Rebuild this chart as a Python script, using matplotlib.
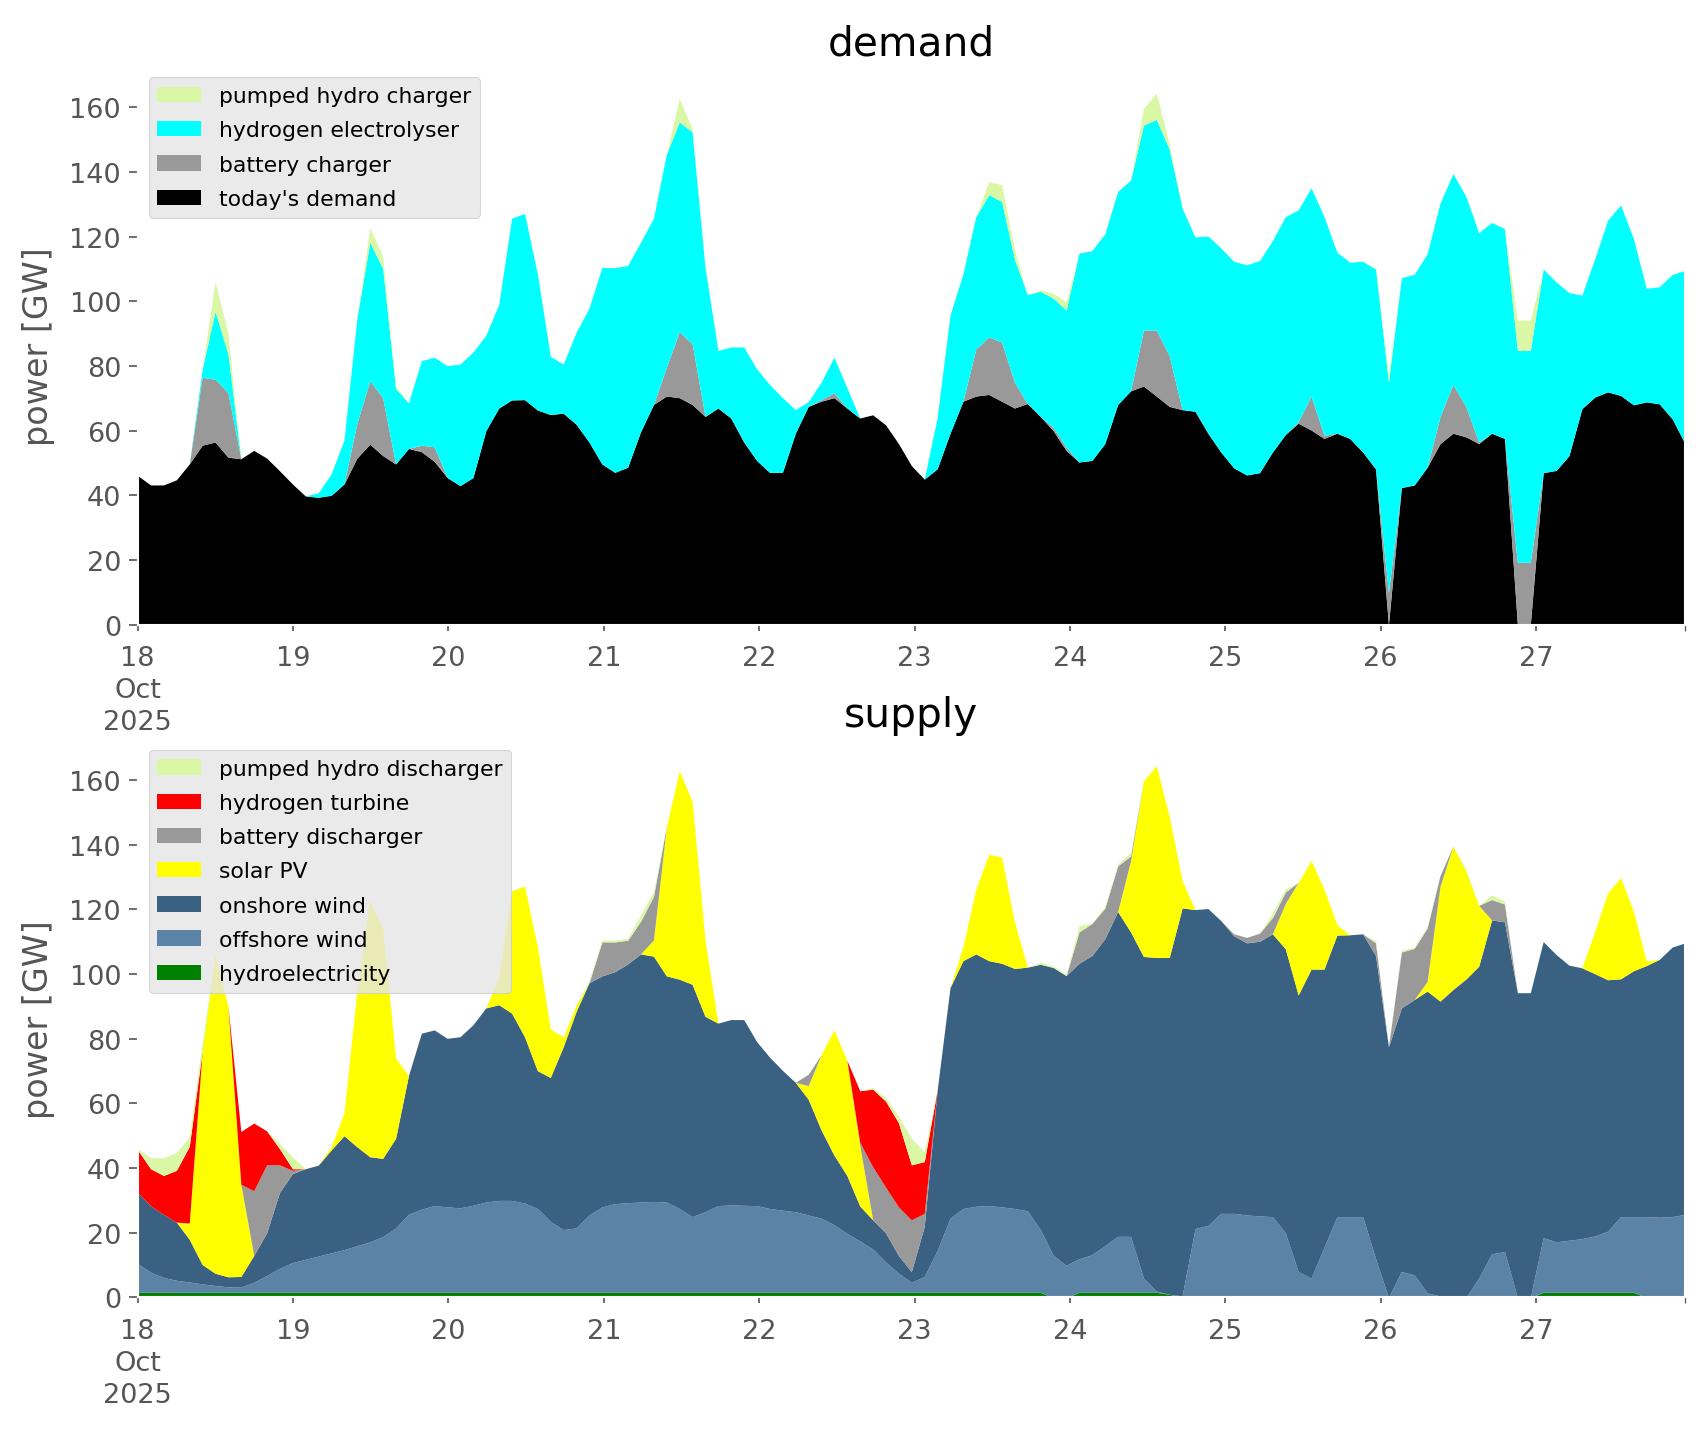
import numpy as np
import pandas as pd
import matplotlib
matplotlib.use('Agg')
import matplotlib.pyplot as plt

plt.style.use('ggplot')

# 2-hourly samples, 18 Oct 00:00 .. 27 Oct 23:00
times = pd.date_range('2025-10-18 00:00', '2025-10-27 23:00', periods=121)

# ---- demand side [GW]
todays_demand = [46.1, 43.2, 43.2, 44.8, 49.7, 55.5, 56.5, 51.8, 51.3, 53.9,
                 51.5, 47.6, 43.5, 39.8, 39.4, 40.0, 43.5, 51.5, 55.8, 52.3,
                 49.7, 54.5, 53.5, 50.5, 45.5, 43.0, 45.5, 60.0, 67.0, 69.5,
                 69.6, 66.4, 65.0, 65.4, 62.0, 56.5, 49.7, 47.1, 48.7, 59.7,
                 68.1, 70.7, 70.2, 68.1, 64.4, 67.0, 63.9, 56.5, 50.8, 47.1,
                 47.1, 59.2, 67.5, 69.1, 70.2, 67.0, 63.9, 64.9, 61.8, 56.0,
                 49.2, 45.0, 48.2, 59.2, 69.1, 70.7, 71.2, 69.1, 67.0, 68.4,
                 64.4, 60.0, 53.9, 50.3, 50.8, 56.0, 68.1, 72.3, 73.8, 70.7,
                 67.5, 66.5, 66.0, 59.2, 53.4, 48.5, 46.3, 47.0, 53.4, 58.8,
                 62.3, 60.2, 57.6, 59.2, 57.6, 53.4, 48.2, 0.0, 42.4, 43.2,
                 48.7, 56.0, 59.2, 58.1, 56.0, 59.2, 57.6, 0.0, 0.0, 47.0,
                 47.7, 52.3, 66.8, 70.4, 72.0, 70.9, 68.0, 68.9, 68.3, 63.7, 56.0]
battery_charger = [0, 0, 0, 0, 0, 21.0, 19.4, 20.0, 0, 0,
                   0, 0, 0, 0, 0, 0, 0, 10.8, 19.6, 17.9,
                   0, 0, 2.0, 4.5, 0, 0, 0, 0, 0, 0,
                   0, 0, 0, 0, 0, 0, 0, 0, 0, 0,
                   0, 8.9, 20.4, 18.8, 0, 0, 0, 0, 0, 0,
                   0, 0, 0, 0.5, 1.5, 0, 0, 0, 0, 0,
                   0, 0, 0, 0, 0, 14.6, 17.8, 18.3, 7.9, 0,
                   0, 1.0, 1.0, 0, 0, 0, 0, 0, 17.3, 20.4,
                   15.7, 0, 0, 0, 0, 0, 0, 0, 0, 0,
                   0.5, 10.5, 1.0, 0, 0, 0, 0, 10.0, 0, 0,
                   0, 8.4, 15.1, 9.4, 0.5, 0, 0, 19.3, 19.3, 0,
                   0, 0, 0, 0, 0, 0, 0, 0, 0, 0, 0]
electrolyser = [0, 0, 0, 0, 0, 2.5, 21.0, 12.0, 0, 0,
                0, 0, 0, 0, 1.4, 6.6, 13.6, 32.5, 42.9, 40.0,
                23.3, 14.1, 26.2, 27.7, 34.6, 37.6, 38.8, 29.5, 32.0, 56.2,
                57.6, 42.0, 18.0, 15.2, 28.4, 41.4, 60.8, 63.3, 62.4, 58.6,
                57.6, 65.9, 64.9, 65.5, 46.0, 17.8, 22.0, 29.4, 28.3, 27.2,
                23.1, 7.3, 1.5, 5.4, 11.0, 6.3, 0, 0, 0, 0,
                0, 0, 15.8, 36.6, 39.4, 40.9, 44.0, 43.5, 38.1, 33.7,
                38.7, 40.0, 42.4, 64.6, 64.9, 64.9, 65.9, 65.2, 63.4, 65.2,
                63.9, 62.3, 53.9, 61.0, 63.1, 63.9, 65.0, 65.6, 65.4, 67.4,
                65.5, 64.4, 67.6, 56.0, 54.5, 59.0, 61.8, 65.0, 64.9, 65.2,
                66.0, 66.0, 65.2, 65.0, 64.7, 65.2, 64.9, 65.5, 65.5, 63.0,
                58.3, 50.4, 35.1, 42.8, 53.1, 58.9, 51.4, 35.1, 36.2, 44.6, 53.6]
pumped_charger = [0, 0, 0, 0, 0, 0, 9.4, 6.2, 0, 0,
                  0, 0, 0, 0, 0, 0, 0, 0, 4.5, 3.8,
                  1.0, 0, 0, 0, 0, 0, 0, 0, 0, 0,
                  0, 0, 0, 0, 0, 0, 0, 0, 0, 0,
                  0, 0, 7.3, 1.0, 0, 0, 0, 0, 0, 0,
                  0, 0, 0, 0, 0, 0, 0, 0, 0, 0,
                  0, 0, 0, 0, 0, 0, 4.0, 5.2, 3.0, 0,
                  0.5, 1.5, 2.6, 0, 0, 0, 0, 0, 5.2, 8.1,
                  1.6, 0, 0, 0, 0, 0, 0, 0, 0, 0,
                  0, 0, 0, 0, 0, 0, 0.3, 2.5, 0, 0,
                  0, 0, 0, 0, 0, 0, 0, 9.4, 9.4, 0,
                  0, 0, 0, 0, 0, 0, 0, 0, 0, 0, 0]

# ---- supply side [GW]
hydro = [1.6] * 71 + [0, 0] + [1.6] * 7 + [1.0, 0, 0, 0, 0.5] + [0] * 24 + [1.6] * 8 + [0] * 4
offshore = [8.9, 6.2, 4.6, 3.7, 3.2, 2.6, 2.1, 1.7, 1.6, 3.1,
            5.2, 7.4, 9.2, 10.2, 11.2, 12.2, 13.2, 14.4, 15.6, 17.2,
            19.9, 24.1, 25.7, 26.8, 26.4, 26.1, 26.9, 27.9, 28.4, 28.4,
            27.6, 25.9, 21.9, 19.4, 19.9, 23.9, 26.4, 27.4, 27.7, 27.9,
            28.1, 27.9, 25.9, 23.4, 24.9, 26.8, 27.0, 26.9, 26.8, 25.9,
            25.4, 24.9, 23.9, 22.9, 20.9, 18.2, 15.9, 13.4, 9.4, 5.9,
            3.1, 4.9, 12.9, 22.9, 25.9, 26.6, 26.8, 26.4, 25.9, 25.2,
            19.4, 13.0, 10.0, 10.4, 11.6, 14.4, 17.3, 17.3, 4.4, 0.4,
            0.0, 0.5, 21.3, 22.3, 25.5, 26.0, 25.5, 25.2, 25.0, 20.0,
            8.0, 6.0, 15.5, 25.0, 25.0, 25.0, 12.0, 0.0, 8.0, 7.0,
            1.4, 0.5, 0.0, 0.0, 6.0, 13.5, 14.2, 0.0, 0.0, 16.9,
            15.6, 16.1, 16.6, 17.4, 18.9, 23.4, 23.4, 25.0, 24.8, 25.0, 25.7]
onshore = [22.0, 20.5, 19.5, 18.0, 13.2, 6.0, 3.8, 3.1, 3.3, 8.3,
           13.2, 23.5, 27.5, 28.0, 28.1, 31.8, 35.2, 30.6, 26.3, 24.2,
           27.7, 42.9, 54.4, 54.3, 52.1, 52.9, 55.8, 60.0, 60.5, 57.9,
           51.4, 42.6, 44.5, 56.5, 66.9, 71.8, 71.4, 71.7, 73.8, 76.7,
           75.8, 69.9, 70.9, 71.8, 60.4, 56.4, 57.3, 57.4, 50.7, 46.8,
           43.2, 40.0, 35.8, 27.3, 21.5, 17.9, 10.8, 9.0, 9.0, 5.5,
           3.3, 15.5, 49.5, 71.3, 76.6, 78.0, 75.7, 75.3, 74.2, 75.3,
           82.0, 89.0, 89.5, 91.3, 92.5, 94.9, 100.4, 94.1, 99.4, 103.1,
           104.1, 119.9, 98.6, 97.9, 90.5, 85.8, 84.1, 84.9, 87.4, 87.8,
           85.5, 95.5, 86.0, 87.0, 87.1, 87.4, 93.7, 77.5, 81.5, 85.1,
           93.3, 91.1, 95.2, 98.4, 96.4, 103.2, 101.9, 94.2, 94.2, 91.5,
           88.8, 85.0, 83.7, 81.1, 77.7, 73.5, 76.0, 77.6, 79.7, 83.3, 83.9]
solar = [0, 0, 0, 0, 5.0, 65.8, 98.8, 83.6, 28.5, 0,
         0, 0, 0, 0, 0, 1.0, 7.1, 48.2, 79.3, 71.0,
         24.8, 0, 0, 0, 0, 0, 0, 0, 8.5, 37.8,
         46.6, 38.3, 15.0, 3.0, 2.0, 0, 0, 0, 0, 0,
         5.0, 46.1, 64.4, 56.6, 23.5, 0, 0, 0, 0, 0,
         0, 0, 4.2, 23.2, 38.7, 35.6, 18.7, 0, 0, 0,
         0, 0, 0, 0, 4.4, 20.0, 32.9, 32.8, 14.3, 0,
         0, 0, 0, 0, 0, 0, 0, 22.0, 54.3, 59.3,
         43.6, 8.4, 0, 0, 0, 0, 0, 0, 0, 14.0,
         34.8, 33.6, 24.7, 3.2, 0, 0, 0, 0, 0, 0,
         3.0, 35.5, 44.3, 33.4, 18.8, 0, 0, 0, 0, 0,
         0, 0, 0, 13.1, 26.9, 31.3, 18.4, 1.4, 0, 0, 0]
battery_discharger = [0, 0, 0, 0, 0, 0, 0, 0, 0, 20.0,
                      21.0, 8.5, 1.0, 0, 0, 0, 0, 0, 0, 0,
                      0, 0, 0, 0, 0, 0, 0, 0, 0, 0,
                      0, 0, 0, 0, 0, 0, 10.5, 9.2, 7.3, 10.1,
                      13.5, 0, 0, 0, 0, 0, 0, 0, 0, 0,
                      0, 0, 3.5, 0, 0, 0, 1.0, 16.4, 14.1, 15.0,
                      16.0, 4.0, 0, 0, 0, 0, 0, 0, 0, 0,
                      0, 0, 0, 9.7, 9.9, 9.4, 14.1, 1.5, 0, 0,
                      0, 0, 0, 0, 0, 0.6, 1.7, 2.5, 5.0, 3.5,
                      0, 0, 0, 0, 0, 0, 3.9, 0, 17.3, 15.8,
                      16.5, 3.3, 0, 0, 0, 6.3, 5.5, 0, 0, 0,
                      0, 0, 0, 0, 0, 0, 0, 0, 0, 0, 0]
h2_turbine = [13.1, 11.5, 12.0, 16.0, 23.7, 0, 0, 0, 16.3, 20.9,
              10.5, 5.0, 0.5, 0, 0, 0, 0, 0, 0, 0,
              0, 0, 0, 0, 0, 0, 0, 0, 0, 0,
              0, 0, 0, 0, 0, 0, 0, 0, 0, 0,
              0, 0, 0, 0, 0, 0, 0, 0, 0, 0,
              0, 0, 0, 0, 0, 0, 15.9, 24.0, 26.6, 26.0,
              17.0, 16.0, 0, 0, 0, 0, 0, 0, 0, 0,
              0, 0, 0, 0, 0, 0, 0, 0, 0, 0,
              0, 0, 0, 0, 0, 0, 0, 0, 0, 0,
              0, 0, 0, 0, 0, 0, 0, 0, 0, 0,
              0, 0, 0, 0, 0, 0, 0, 0, 0, 0,
              0, 0, 0, 0, 0, 0, 0, 0, 0, 0, 0]
pumped_discharger = [0.5, 3.4, 5.5, 5.5, 3.0, 3.0, 0, 0, 0, 0,
                     0, 1.6, 3.7, 0, 0, 0, 0, 0, 0, 0,
                     0, 0, 0, 0, 0, 0, 0, 0, 0, 0,
                     0, 0, 0, 0, 0, 0.6, 0.6, 0.5, 0.7, 1.9,
                     1.5, 0, 0, 0, 0, 0, 0, 0, 0, 0,
                     0, 0, 0, 0, 0, 0, 0, 0.5, 1.1, 2.0,
                     8.2, 3.0, 0, 0, 0, 0, 0, 0, 0, 0,
                     0.6, 0.5, 0.4, 1.9, 0.1, 0.6, 0.6, 1.0, 0, 0,
                     0, 0, 0, 0, 0, 0, 0, 0, 1.4, 1.0,
                     0, 0, 0, 0, 0, 0, 0.7, 0, 0.5, 0.5,
                     0.5, 0, 0, 0.7, 0, 1.4, 0.9, 0, 0, 0,
                     0, 0, 0, 0, 0, 0, 0, 0, 0, 0, 0]

demand = [("today's demand", todays_demand, 'black'),
          ('battery charger', battery_charger, '#999999'),
          ('hydrogen electrolyser', electrolyser, '#00ffff'),
          ('pumped hydro charger', pumped_charger, '#daf7a6')]
supply = [('hydroelectricity', hydro, 'green'),
          ('offshore wind', offshore, '#5b83a5'),
          ('onshore wind', onshore, '#3b6182'),
          ('solar PV', solar, 'yellow'),
          ('battery discharger', battery_discharger, '#999999'),
          ('hydrogen turbine', h2_turbine, 'red'),
          ('pumped hydro discharger', pumped_discharger, '#daf7a6')]


def stack(ax, series, title):
    base = np.zeros(len(times))
    for name, vals, col in series:
        top = base + np.asarray(vals, dtype=float)
        ax.fill_between(times, base, top, color=col, lw=0, label=name)
        base = top
    ax.set_facecolor('white')
    ax.grid(False)
    ax.set_xlim(times[0], times[-1])
    ax.set_ylim(bottom=0)
    ax.set_ylabel('power [GW]', fontsize=16, labelpad=7)
    ax.set_title(title, fontsize=19.5, color='black')
    days = pd.date_range('2025-10-18', '2025-10-27', freq='D')
    ax.set_xticks(days)
    ax.set_xticklabels(['18\nOct\n2025'] + [str(d.day) for d in days[1:]],
                       linespacing=1.3)
    ax.set_xticks([times[-1]], minor=True)
    ax.tick_params(axis='x', which='both', length=3, pad=7, colors='#555555', labelsize=13)
    ax.tick_params(axis='y', length=4.5, colors='#555555', labelsize=13)
    h, l = ax.get_legend_handles_labels()
    ax.legend(h[::-1], l[::-1], loc='upper left', fontsize=10.5, labelspacing=0.65)


fig = plt.figure(figsize=(1706 / 150, 1431 / 150), dpi=150)
ax1 = fig.add_axes([0.0807, 0.5628, 0.907, 0.390])
ax2 = fig.add_axes([0.0807, 0.0926, 0.907, 0.3903])
stack(ax1, demand, 'demand')
stack(ax2, supply, 'supply')

fig.savefig('out.png', dpi=150)
